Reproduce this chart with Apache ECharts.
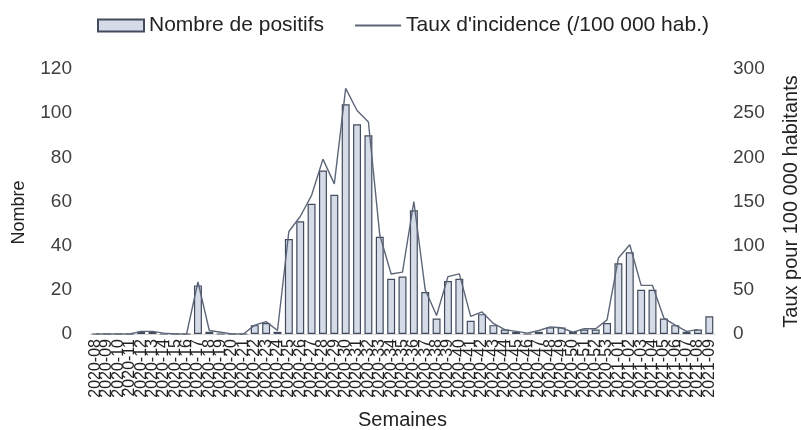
<!DOCTYPE html>
<html>
<head>
<meta charset="utf-8">
<script src="https://cdn.jsdelivr.net/npm/echarts@6/dist/echarts.min.js"></script>
<style>html,body{margin:0;padding:0;background:#fff}#c{width:801px;height:430px}</style>
</head>
<body>
<div id="c"></div>
<script>
var weeks2020 = [];
for (var w = 8; w <= 53; w++) weeks2020.push('2020-' + (w < 10 ? '0' + w : '' + w));
var weeks2021 = ['2021-01','2021-02','2021-03','2021-04','2021-05','2021-06','2021-07','2021-08','2021-09'];
var categories = weeks2020.concat(weeks2021);

var positifs = [0, 0,0,0,1,1,0,0,0,22,1, 0,0,0,4,5,1,43,51,59,74, 63,104,95,90,44,25,26,56,19,7, 24,25,6,9,4,2,1,0,1,3, 3,1,2,2,5,32,37,20,20,7, 4,1,2,8];
var taux = [0, 0,0,0,3,3,1,0,0,59,4, 2,0,0,10,14,4,116,133,157,198, 170,278,253,240,112,68,70,150,50,21, 65,68,20,25,12,5,3,1,4,8, 7,2,6,6,16,86,101,55,55,18, 10,3,5,null];

var leftTicks = [0, 20, 40, 60, 80, 100, 120];
var rightTicks = [0, 50, 100, 150, 200, 250, 300];

var FONT = 'Liberation Sans, Arial, sans-serif';
var chart = echarts.init(document.getElementById('c'));
chart.setOption({
  animation: false,
  textStyle: { fontFamily: FONT },
  legend: {
    left: 97, top: 15, padding: 0,
    itemWidth: 46, itemHeight: 12, itemGap: 30,
    textStyle: { fontSize: 21, color: '#222', fontFamily: FONT },
    data: [
      { name: 'Nombre de positifs', icon: 'rect' },
      { name: "Taux d'incidence (/100 000 hab.)", itemStyle: { color: 'rgba(0,0,0,0)', borderWidth: 0 } }
    ]
  },
  grid: { left: 90, right: 86, top: 69, bottom: 96, containLabel: false, outerBoundsMode: 'none' },
  xAxis: {
    type: 'category',
    data: categories,
    axisLine: { show: true, lineStyle: { color: '#d9d9d9', width: 1 } },
    axisTick: { show: false },
    axisLabel: { interval: 0, rotate: 90, fontSize: 16, color: '#222', margin: 5, fontFamily: FONT },
    name: 'Semaines', nameLocation: 'middle', nameGap: 76,
    nameTextStyle: { fontSize: 20, color: '#222', fontFamily: FONT }
  },
  yAxis: [
    {
      type: 'value', min: leftTicks[0], max: leftTicks[leftTicks.length - 1], interval: 20,
      axisLine: { show: false }, axisTick: { show: false }, splitLine: { show: false },
      axisLabel: { fontSize: 19, color: '#404040', margin: 18, fontFamily: FONT },
      name: 'Nombre', nameLocation: 'middle', nameGap: 62, nameRotate: 90,
      nameTextStyle: { fontSize: 18, color: '#222', fontFamily: FONT, padding: [0, 22, 0, 0] }
    },
    {
      type: 'value', min: rightTicks[0], max: rightTicks[rightTicks.length - 1], interval: 50,
      axisLine: { show: false }, axisTick: { show: false }, splitLine: { show: false },
      axisLabel: { fontSize: 19, color: '#404040', margin: 18, fontFamily: FONT },
      name: 'Taux pour 100 000 habitants', nameLocation: 'middle', nameGap: 66, nameRotate: 90,
      nameTextStyle: { fontSize: 20, color: '#222', fontFamily: FONT }
    }
  ],
  series: [
    {
      name: 'Nombre de positifs', type: 'bar', yAxisIndex: 0,
      data: positifs, barWidth: '70%',
      itemStyle: { color: '#d5dbe7', borderColor: '#434c5e', borderWidth: 1.2 }
    },
    {
      name: "Taux d'incidence (/100 000 hab.)", type: 'line', yAxisIndex: 1,
      data: taux, symbol: 'none', connectNulls: false,
      lineStyle: { color: '#5d6678', width: 1.4 },
      itemStyle: { color: '#5d6678' }
    }
  ]
});
</script>
</body>
</html>
